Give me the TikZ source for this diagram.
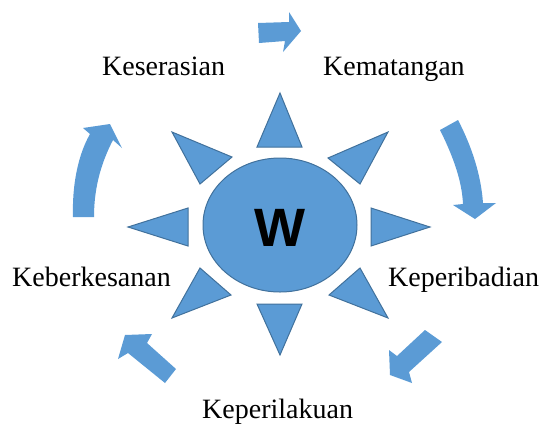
\documentclass[tikz,border=0pt]{standalone}
\usepackage{fontspec}
\usetikzlibrary{shapes.geometric}
\setmainfont{Liberation Serif}
\newfontfamily\wfont{Liberation Sans}
\definecolor{sunfill}{HTML}{5B9BD5}
\definecolor{sunline}{HTML}{41719C}
\begin{document}
\begin{tikzpicture}[x=1pt,y=-1pt,
  ray/.style={fill=sunfill,draw=sunline,line width=1pt,line join=miter},
  flow/.style={fill=sunfill,draw=none},
  lbl/.style={anchor=base west,inner sep=0pt,font=\fontsize{28}{30}\selectfont}]
\useasboundingbox (0,0) rectangle (546,424);
% centre
\node[ellipse,ray,minimum width=154pt,minimum height=134pt,inner sep=0pt] (w) at (280,225) {};
\node[inner sep=0pt,font=\wfont\bfseries\fontsize{54}{54}\selectfont] (wl) at (280,228) {W};
% rays
\draw[ray] (280,93) -- (302,147) -- (257,147) -- cycle;
\draw[ray] (388,132) -- (360,184) -- (328,158) -- cycle;
\draw[ray] (430,227) -- (371,246) -- (371,208) -- cycle;
\draw[ray] (388,318) -- (329,295) -- (360,268) -- cycle;
\draw[ray] (280,355) -- (257,304) -- (302,304) -- cycle;
\draw[ray] (172,318) -- (200,268) -- (231,295) -- cycle;
\draw[ray] (128,227) -- (188,208) -- (188,246) -- cycle;
\draw[ray] (172,132) -- (232,157) -- (200,184) -- cycle;
% cycle arrows
\fill[flow] (258,23) -- (289,22) -- (289,12) -- (301,31) -- (283,52) -- (285,41) -- (259,43) -- cycle;
\fill[flow] (440,130) .. controls (454,158) and (462,182) .. (463,204) -- (453,205) -- (475,219) -- (496,203) -- (483,203) .. controls (481,175) and (472,147) .. (458,120) -- cycle;
\fill[flow] (425,330) -- (442,342) -- (409,372) -- (412,383) -- (390,375) -- (389,350) -- (397,356) -- cycle;
\fill[flow] (125,335) -- (152,334) -- (147,343) -- (176,369) -- (165,383) -- (128,353) -- (118,359) -- cycle;
\fill[flow] (73,217) .. controls (72,185) and (78,155) .. (90,134) -- (83,128) -- (110,124) -- (122,148) -- (113,140) .. controls (100,165) and (94,190) .. (94,217) -- cycle;
% labels
\node[lbl] (kes) at (102,75) {Keserasian};
\node[lbl] (kem) at (323,75) {Kematangan};
\node[lbl] (keb) at (12,286) {Keberkesanan};
\node[lbl] (kep) at (388,286) {Keperibadian};
\node[lbl] (kel) at (202,418) {Keperilakuan};
\end{tikzpicture}
\end{document}
